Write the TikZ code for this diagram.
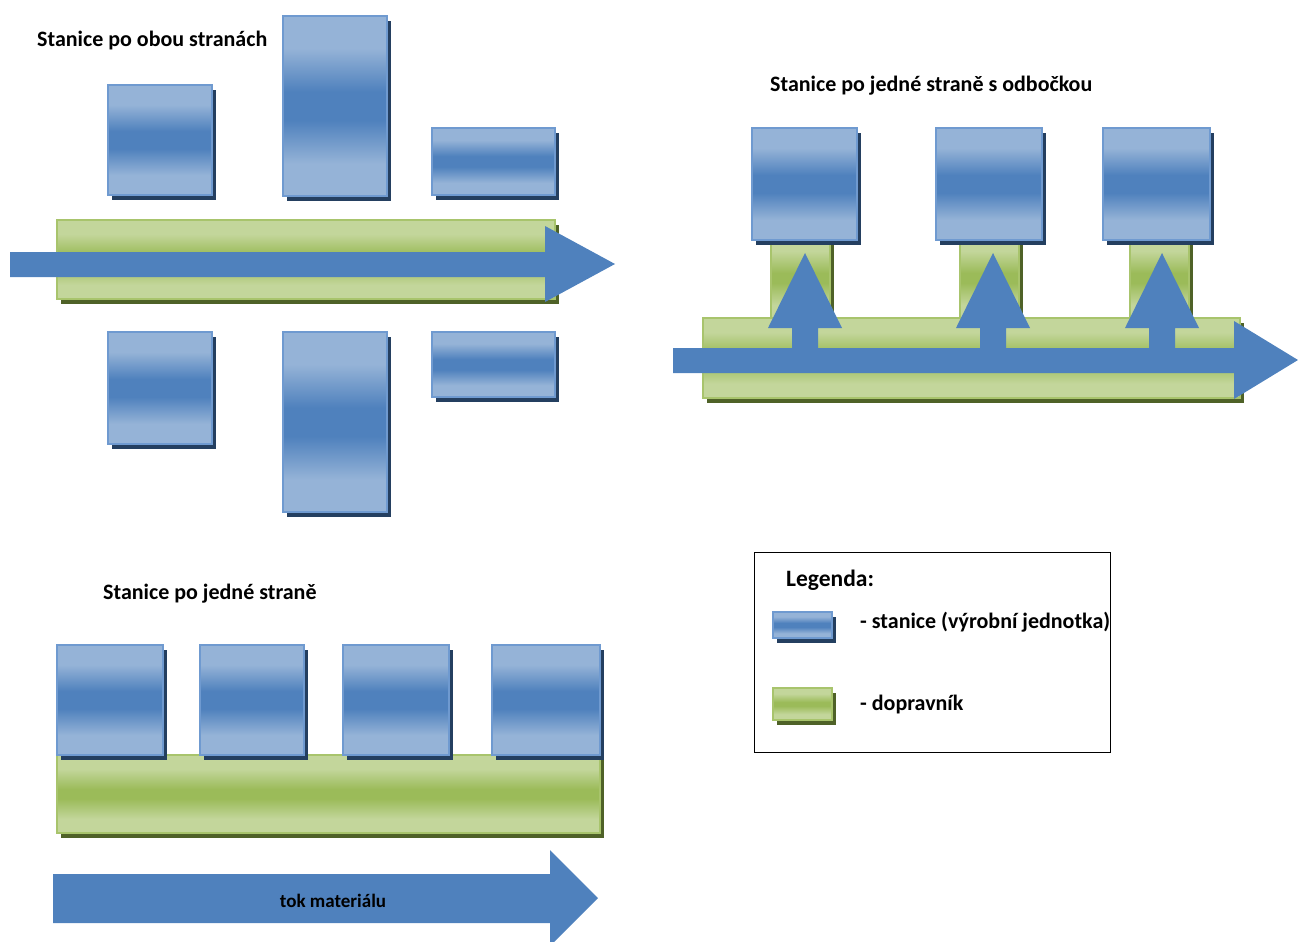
\documentclass[tikz,border=0pt]{standalone}
\usepackage{fontspec}
\setmainfont{Carlito}
\usetikzlibrary{shadows}

\definecolor{bluelight}{HTML}{95B3D7}
\definecolor{bluemid}{HTML}{4F81BD}
\definecolor{blueedge}{HTML}{6F9AD0}
\definecolor{blueshadow}{HTML}{243F60}
\definecolor{greenlight}{HTML}{C3D69B}
\definecolor{greenmid}{HTML}{9BBB59}
\definecolor{greenedge}{HTML}{A8C46C}
\definecolor{greenshadow}{HTML}{4F6228}
\definecolor{flowblue}{HTML}{4F81BD}

% glossy bands: light at the edges, full colour in the middle
% (TikZ maps the path onto 25bp..75bp of the shading)
\pgfdeclareverticalshading{stationshade}{100bp}{%
  color(0bp)=(bluelight); color(34bp)=(bluelight); color(46bp)=(bluemid);
  color(54bp)=(bluemid); color(66bp)=(bluelight); color(100bp)=(bluelight)}
\pgfdeclareverticalshading{conveyorshade}{100bp}{%
  color(0bp)=(greenlight); color(34bp)=(greenlight); color(47bp)=(greenmid);
  color(53bp)=(greenmid); color(66bp)=(greenlight); color(100bp)=(greenlight)}

\tikzset{
  station/.style={draw=blueedge, line width=1.2pt, shading=stationshade,
    anchor=north west, inner sep=0pt, outer sep=0pt,
    drop shadow={shadow xshift=4pt, shadow yshift=-5pt, fill=blueshadow, opacity=1}},
  conveyor/.style={draw=greenedge, line width=1.2pt, shading=conveyorshade,
    anchor=north west, inner sep=0pt, outer sep=0pt,
    drop shadow={shadow xshift=4pt, shadow yshift=-5pt, fill=greenshadow, opacity=1}},
  flow/.style={fill=flowblue, draw=none},
  caption/.style={font=\bfseries\fontsize{22}{26}\selectfont, text=black, inner sep=0pt},
  legendframe/.style={draw=black, line width=1.3pt, fill=white},
}

\newcommand{\stationbox}[5]{% name, x, y, width, height
  \node[station, minimum width=#4pt, minimum height=#5pt] (#1) at (#2,#3) {};}
\newcommand{\conveyorbox}[5]{%
  \node[conveyor, minimum width=#4pt, minimum height=#5pt] (#1) at (#2,#3) {};}

\begin{document}
\begin{tikzpicture}[x=1pt, y=-1pt]
\useasboundingbox (0,0) rectangle (1298,942);

% ---------- stations on both sides ----------
\node[caption, anchor=west] (t1) at (37,41) {Stanice po obou stranách};
\stationbox{a1}{108}{85}{104}{110}
\stationbox{a2}{283}{16}{104}{180}
\stationbox{a3}{432}{128}{123}{67}
\conveyorbox{c1}{57}{220}{498}{79}
\fill[flow] (10,252) -- (545,252) -- (545,226) -- (615,264) -- (545,302)
  -- (545,277) -- (10,277) -- cycle;
\stationbox{a4}{108}{332}{104}{112}
\stationbox{a5}{283}{332}{104}{180}
\stationbox{a6}{432}{332}{123}{65}

% ---------- stations on one side with branches ----------
\node[caption, anchor=west] (t2) at (770,86) {Stanice po jedné straně s odbočkou};
\conveyorbox{k1}{771}{236}{59}{84}
\conveyorbox{k2}{960}{236}{59}{84}
\conveyorbox{k3}{1130}{236}{59}{84}
\conveyorbox{c2}{703}{318}{537}{80}
\stationbox{b1}{752}{128}{105}{112}
\stationbox{b2}{936}{128}{106}{112}
\stationbox{b3}{1103}{128}{107}{112}
\foreach \cx in {805,993,1162}{
  \fill[flow] (\cx-13,360) -- (\cx-13,328) -- (\cx-37,328) -- (\cx,253)
    -- (\cx+37,328) -- (\cx+13,328) -- (\cx+13,360) -- cycle;
}
\fill[flow] (673,348) -- (1234,348) -- (1234,321) -- (1298,360) -- (1234,399)
  -- (1234,373) -- (673,373) -- cycle;

% ---------- legend ----------
\node[legendframe, anchor=north west, minimum width=356pt, minimum height=200pt,
  inner sep=0pt] (leg) at (754,552) {};
\node[caption, anchor=west, font=\bfseries\fontsize{23.5}{27}\selectfont] (lt) at (786,580) {Legenda:};
\stationbox{ls}{773}{612}{59}{26}
\node[caption, anchor=west] (lst) at (860,622) {- stanice (výrobní jednotka)};
\conveyorbox{lc}{773}{688}{59}{32}
\node[caption, anchor=west] (lct) at (860,705) {- dopravník};

% ---------- stations on one side ----------
\node[caption, anchor=west] (t3) at (103,594) {Stanice po jedné straně};
\conveyorbox{c3}{57}{755}{543}{78}
\stationbox{d1}{57}{645}{106}{110}
\stationbox{d2}{200}{645}{104}{110}
\stationbox{d3}{343}{645}{106}{110}
\stationbox{d4}{492}{645}{108}{110}
\fill[flow] (53,874) -- (550,874) -- (550,850) -- (598,898) -- (550,946)
  -- (550,923) -- (53,923) -- cycle;
\node[caption, font=\bfseries\fontsize{19}{23}\selectfont] (flowtext) at (333,901) {tok materiálu};
\end{tikzpicture}
\end{document}
